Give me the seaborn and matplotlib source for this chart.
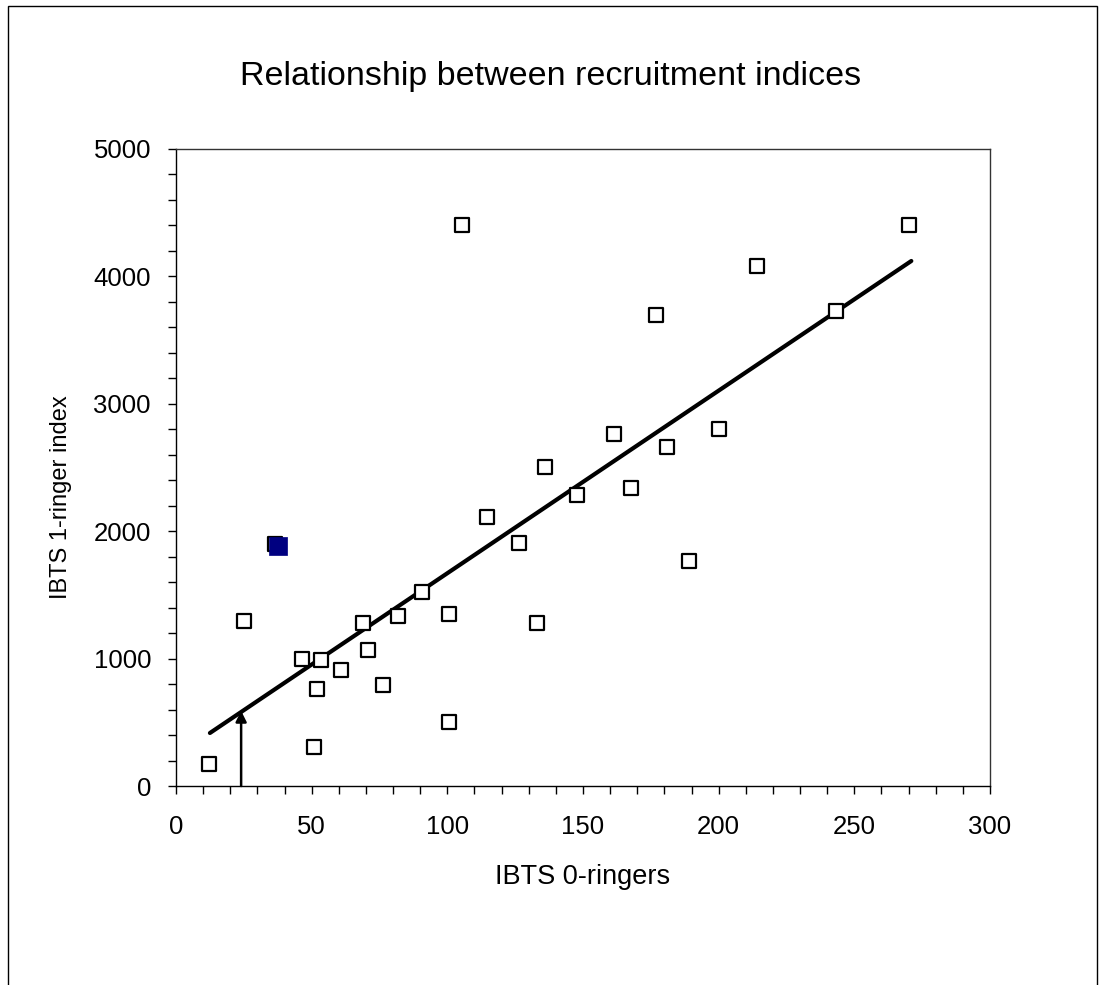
import matplotlib
matplotlib.use("Agg")
import matplotlib.pyplot as plt
import matplotlib.patches as mpatches
from matplotlib.ticker import MultipleLocator
import seaborn as sns
import pandas as pd

# ---- data ----
ibts0 = [12.2, 25.1, 36.6, 46.3, 53.4, 51.9, 51.0, 60.7, 69.0, 70.6, 76.2, 81.9,
         90.8, 100.7, 100.7, 105.4, 114.6, 126.4, 133.1, 136.0, 147.8, 161.4,
         167.7, 176.9, 181.0, 189.1, 200.1, 214.2, 243.3, 270.2]
ibts1 = [173, 1297, 1900, 999, 986, 759, 308, 913, 1277, 1067, 793, 1332,
         1520, 1348, 500, 4403, 2111, 1907, 1279, 2504, 2284, 2763,
         2339, 3697, 2661, 1766, 2802, 4082, 3728, 4403]
highlight_x = [37.5]
highlight_y = [1880]
fit_x = [12.5, 271.0]
fit_y = [416, 4121]
arrow_x = 24.0
arrow_y = [0, 590]

title = "Relationship between recruitment indices"
xlabel = "IBTS 0-ringers"
ylabel = "IBTS 1-ringer index"

sns.set_style("white")
plt.rcParams['font.family'] = ['Liberation Sans', 'DejaVu Sans']
plt.rcParams['text.color'] = 'black'
plt.rcParams['axes.labelcolor'] = 'black'
plt.rcParams['xtick.color'] = 'black'
plt.rcParams['ytick.color'] = 'black'

fig = plt.figure(figsize=(11.01, 9.85), dpi=100)
ax = fig.add_axes([176/1101, 1-786/985, (990-176)/1101, (786-149)/985])

# outer frame
fig.patches.append(mpatches.Rectangle((8/1101, -0.05), (1097-8)/1101, 1.05-6/985,
                                      transform=fig.transFigure, fill=False,
                                      edgecolor='black', linewidth=1.0))

pts = pd.DataFrame({"x": ibts0, "y": ibts1})
sns.scatterplot(data=pts, x="x", y="y", ax=ax, marker="s", s=95,
                facecolor="white", edgecolor="black", linewidth=1.6, zorder=3)
hl = pd.DataFrame({"x": highlight_x, "y": highlight_y})
sns.scatterplot(data=hl, x="x", y="y", ax=ax, marker="s", s=150,
                color="#000080", edgecolor="#000080", linewidth=0.5, zorder=4)
fit = pd.DataFrame({"x": fit_x, "y": fit_y})
sns.lineplot(data=fit, x="x", y="y", ax=ax, color="black", linewidth=3.0, zorder=2)

ax.annotate("", xy=(arrow_x, arrow_y[1]), xytext=(arrow_x, arrow_y[0]),
            arrowprops=dict(arrowstyle="-|>", color="black", lw=1.8,
                            mutation_scale=16, shrinkA=0, shrinkB=0), zorder=5)

ax.set_xlim(0, 300)
ax.set_ylim(0, 5000)
ax.xaxis.set_major_locator(MultipleLocator(50))
ax.xaxis.set_minor_locator(MultipleLocator(10))
ax.yaxis.set_major_locator(MultipleLocator(1000))
ax.yaxis.set_minor_locator(MultipleLocator(200))
ax.tick_params(axis='both', which='both', direction='out', length=6, width=1,
               color='black', labelsize=18.5, labelcolor='black')
ax.tick_params(axis='x', which='both', pad=15)
ax.tick_params(axis='y', which='both', pad=12)
ax.tick_params(bottom=True, left=True, which='both')
for sp in ax.spines.values():
    sp.set_visible(True)
    sp.set_color('#333333')
    sp.set_linewidth(1.0)
ax.spines['left'].set_color('black')
ax.spines['bottom'].set_color('black')

ax.set_xlabel(xlabel, fontsize=19.5, labelpad=18, color='black')
ax.set_ylabel(ylabel, fontsize=17, color='black')
ax.yaxis.set_label_coords(-0.128, 0.454)
fig.text(551/1101, 1-76/985, title, ha='center', va='center', fontsize=24.5, color='black')

fig.savefig("out.png", dpi=100)
